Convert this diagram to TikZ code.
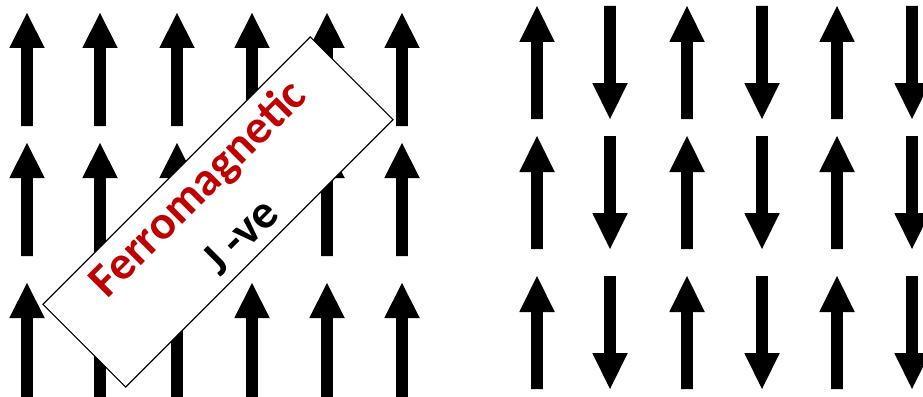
\documentclass[tikz,border=0pt]{standalone}
\usepackage{fontspec}
\setmainfont{Carlito}
\definecolor{ferrored}{HTML}{C00000}
\newcommand\spinup[4]{\fill (#1-5.85,#4) -- (#1+5.85,#4) -- (#1+5.85,#3) -- (#1+17.75,#3) -- (#1,#2) -- (#1-17.75,#3) -- (#1-5.85,#3) -- cycle;}
\newcommand\spindown[4]{\fill (#1-5.85,#2) -- (#1+5.85,#2) -- (#1+5.85,#3) -- (#1+17.75,#3) -- (#1,#4) -- (#1-17.75,#3) -- (#1-5.85,#3) -- cycle;}
\tikzset{
  labelbox/.style={draw=black, fill=white, line width=1.1pt, rotate=45, minimum width=378pt, minimum height=117pt, inner sep=0pt},
  labeltext/.style={rotate=45, font=\bfseries\fontsize{47.5}{50}\selectfont, inner sep=0pt}
}
\begin{document}
\begin{tikzpicture}[x=1pt,y=-1pt]
\clip (0,0) rectangle (923,396);
\fill[white] (0,0) rectangle (923,396);
% left panel: ferromagnetic, all up
\foreach \t/\b/\e in {13/48/126, 143/178/256, 283/318/400}{
  \foreach \x in {27,100,177,252,327,402}{
    \spinup{\x}{\t}{\b}{\e}
  }
}
% right panel: antiferromagnetic, alternating
\foreach \t/\b/\e/\db in {6/42/119/83, 136/172/249/213, 276/312/389/353}{
  \foreach \x in {537,687,837}{
    \spinup{\x}{\t}{\b}{\e}
  }
  \foreach \x in {610,762,912}{
    \spindown{\x}{\t}{\db}{\e}
  }
}
\node[labelbox] (box) at (218,212) {};
\node[labeltext, text=ferrored] (ferro) at (199,190) {Ferromagnetic};
\node[labeltext, text=black] (jve) at (240,236) {J -ve};
\end{tikzpicture}
\end{document}
